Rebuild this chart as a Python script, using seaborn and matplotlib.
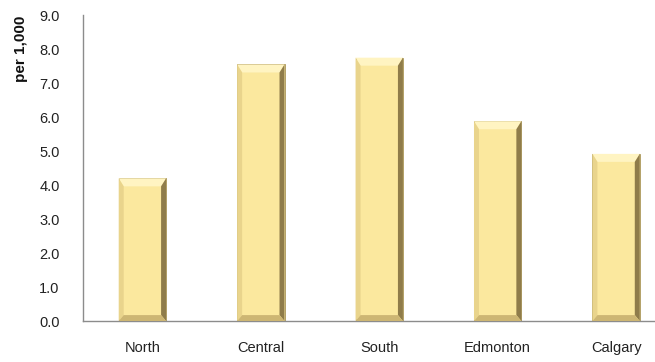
import matplotlib
matplotlib.use("Agg")
import matplotlib.pyplot as plt
import seaborn as sns
import pandas as pd
from matplotlib.patches import Polygon

regions = ["North", "Central", "South", "Edmonton", "Calgary"]
rates = [4.2, 7.55, 7.75, 5.88, 4.92]
y_ticks = [0.0, 1.0, 2.0, 3.0, 4.0, 5.0, 6.0, 7.0, 8.0, 9.0]

sns.set_theme(style="white")
plt.rcParams['font.family'] = ['Liberation Sans', 'DejaVu Sans']

df = pd.DataFrame({"region": regions, "rate": rates})
fig = plt.figure(figsize=(6.55, 3.62), dpi=100)
ax = fig.add_axes([0.127, 0.113, 0.904, 0.845])
sns.barplot(data=df, x="region", y="rate", ax=ax, color="#FBE89E",
            width=0.4, saturation=1, edgecolor="#A89458", linewidth=0.6)

# bevel effect derived from bar geometry
px_per_x = 118.5
px_per_y = 306 / 9.0
for p in ax.patches:
    x0, y0 = p.get_x(), p.get_y()
    w, h = p.get_width(), p.get_height()
    dx = 5 / px_per_x
    dyt = 8 / px_per_y
    dyb = 6 / px_per_y
    x1 = x0 + w
    y1 = y0 + h
    ax.add_patch(Polygon([[x0, y1], [x1, y1], [x1 - dx, y1 - dyt], [x0 + dx, y1 - dyt]],
                         closed=True, facecolor="#FFF4C2", edgecolor="none", zorder=3))
    ax.add_patch(Polygon([[x0, y0], [x0, y1], [x0 + dx, y1 - dyt], [x0 + dx, y0 + dyb]],
                         closed=True, facecolor="#E9D48C", edgecolor="none", zorder=3))
    ax.add_patch(Polygon([[x1, y0], [x1, y1], [x1 - dx, y1 - dyt], [x1 - dx, y0 + dyb]],
                         closed=True, facecolor="#8F7C4A", edgecolor="none", zorder=3))
    ax.add_patch(Polygon([[x0, y0], [x1, y0], [x1 - dx, y0 + dyb], [x0 + dx, y0 + dyb]],
                         closed=True, facecolor="#CDB673", edgecolor="none", zorder=3))

ax.set_xlim(-0.5, 4.5)
ax.set_ylim(0, 9)
ax.set_yticks(y_ticks)
ax.set_yticklabels([f"{v:.1f}" for v in y_ticks], fontsize=10.5, color="#222222")
ax.tick_params(axis="x", labelsize=10.5, labelcolor="#222222", pad=14, length=0)
ax.tick_params(axis="y", length=0, pad=17)
ax.set_xlabel("")
ax.set_ylabel("per 1,000", fontsize=11, fontweight="bold", loc="top", color="#111111")
ax.yaxis.set_label_coords(-0.094, 1.0)
for s in ["top", "right"]:
    ax.spines[s].set_visible(False)
for s in ["left", "bottom"]:
    ax.spines[s].set_color("#8C8C8C")
    ax.spines[s].set_linewidth(1)

fig.savefig("out.png", dpi=100)
